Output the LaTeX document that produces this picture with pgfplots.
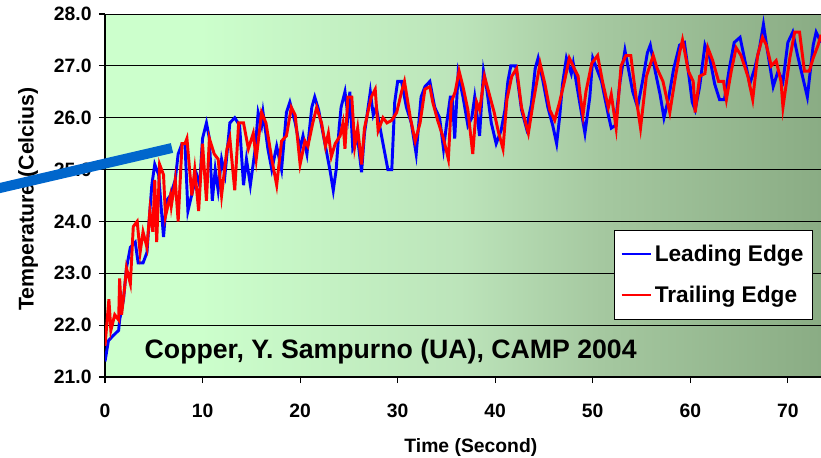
\documentclass[border=0pt]{standalone}
\usepackage{pgfplots}
\pgfplotsset{compat=1.18}
\usepackage{fontspec}
\setmainfont{Liberation Sans}
\definecolor{bgA}{RGB}{204,255,204}
\definecolor{bgB}{RGB}{188,228,186}
\definecolor{bgC}{RGB}{165,200,160}
\definecolor{bgD}{RGB}{138,172,132}
\definecolor{pointer}{RGB}{0,102,204}
\pgfdeclarehorizontalshading{bgshade}{100bp}{color(0bp)=(bgA); color(25bp)=(bgA); color(31.6bp)=(bgA); color(49.8bp)=(bgB); color(59.6bp)=(bgC); color(75bp)=(bgD); color(100bp)=(bgD)}
\begin{document}
\begin{tikzpicture}
\useasboundingbox (-78.75pt,-60pt) rectangle (537pt,282.75pt);
\begin{axis}[
  scale only axis, width=537pt, height=272.25pt,
  xmin=0, xmax=73.4, ymin=21, ymax=28,
  xtick={0,10,...,70}, ytick={21,22,...,28},
  axis background/.style={shading=bgshade},
  ymajorgrids, grid style={black, line width=0.6pt},
  axis x line*=bottom, axis y line*=left,
  axis line style={black, line width=0.8pt},
  tick align=outside, major tick length=4.5pt,
  tick style={black, line width=0.8pt},
  ticklabel style={font=\fontsize{14.5}{17}\selectfont\bfseries},
  /pgf/number format/assume math mode=true,
  xticklabel style={yshift=-12pt},
  yticklabel style={xshift=-2pt, /pgf/number format/.cd, fixed, fixed zerofill, precision=1},
  xlabel={Time (Second)},
  ylabel={Temperature (Celcius)},
  xlabel style={font=\fontsize{14.5}{17}\selectfont\bfseries, at={(axis description cs:0.511,-0.195)}, anchor=center},
  ylabel style={font=\fontsize{16}{19}\selectfont\bfseries, at={(axis description cs:-0.1075,0.49)}, anchor=center},
  legend style={at={(axis description cs:0.989,0.405)}, anchor=north east, draw=black, fill=white, line width=0.6pt,
    font=\fontsize{17}{20}\selectfont\bfseries, row sep=13pt, inner xsep=5pt, inner ysep=9pt},
  legend cell align=left,
  legend image code/.code={\draw[#1, line width=1.6pt] (0pt,0pt) -- (22pt,0pt);},
]
\addplot[blue, line width=2.2pt] coordinates {
(0,21.3)(0.35,21.7)(0.85,21.8)(1.4,21.9)(1.5,22.1)(1.9,22.5)(2.2,23.1)(2.6,23.5)(3.1,23.6)(3.4,23.2)(3.9,23.2)(4.3,23.4)(4.6,24.2)(4.8,24.7)(5.1,25.1)(5.5,24.9)(6.0,23.7)(6.3,24.4)(6.7,24.5)(7.2,24.8)(7.5,25.3)(7.9,25.5)(8.2,25.5)(8.5,24.2)(9.0,24.6)(9.4,24.9)(9.7,24.7)(10.0,25.6)(10.4,25.9)(10.7,25.6)(11.0,24.4)(11.3,25.0)(11.6,24.6)(11.95,25.2)(12.3,24.9)(12.8,25.9)(13.3,26.0)(13.8,25.85)(14.2,24.7)(14.5,25.2)(14.9,24.7)(15.4,25.4)(15.7,26.1)(16.05,25.85)(16.2,26.1)(16.7,25.4)(17.1,25.0)(17.6,25.45)(18.1,25.0)(18.6,26.1)(18.95,26.3)(19.5,25.9)(20.0,25.4)(20.3,25.65)(20.7,25.3)(21.2,26.2)(21.5,26.4)(21.9,26.15)(22.2,25.85)(22.6,25.45)(23.1,24.95)(23.4,24.6)(23.7,25.0)(24.0,25.8)(24.2,26.2)(24.6,26.5)(24.9,26.05)(25.1,26.5)(25.4,25.4)(25.9,25.6)(26.3,24.95)(26.6,25.7)(27.2,26.5)(27.5,26.05)(27.8,26.2)(28.2,25.8)(28.7,25.3)(29.0,25.0)(29.4,25.0)(29.7,26.3)(30.0,26.7)(30.4,26.7)(30.9,26.2)(31.4,25.9)(31.9,25.3)(32.4,26.4)(32.8,26.6)(33.3,26.7)(33.8,26.2)(34.3,26.0)(34.7,25.4)(35.0,25.85)(35.4,26.4)(35.6,26.4)(35.85,25.6)(36.2,26.85)(36.7,26.4)(37.2,25.85)(37.6,26.0)(37.9,26.4)(38.4,25.65)(38.8,26.9)(39.1,26.6)(39.6,25.9)(40.1,25.5)(40.6,25.75)(41.0,26.15)(41.3,26.7)(41.6,27.0)(42.1,27.0)(42.7,26.15)(43.2,25.8)(43.7,26.25)(44.1,26.95)(44.4,27.15)(44.9,26.7)(45.4,26.2)(45.9,25.85)(46.3,25.5)(46.6,26.0)(46.9,26.65)(47.3,27.15)(47.8,26.85)(48.0,27.05)(48.3,26.7)(48.7,26.25)(49.2,25.7)(49.7,26.4)(50.0,27.15)(50.4,26.95)(50.9,26.7)(51.6,26.05)(51.9,25.8)(52.3,25.85)(52.8,26.7)(53.3,27.3)(53.6,27.0)(54.1,26.5)(54.6,26.2)(55.1,26.7)(55.6,27.25)(55.9,27.4)(56.4,26.9)(56.9,26.45)(57.3,26.0)(57.8,26.4)(58.3,26.95)(58.9,27.4)(59.4,27.45)(59.9,26.75)(60.2,26.3)(60.5,26.15)(60.96,26.6)(61.5,27.4)(62.0,27.15)(62.5,26.65)(63.0,26.35)(63.5,26.35)(64.0,26.95)(64.5,27.45)(65.1,27.55)(65.6,27.1)(66.1,26.65)(66.6,26.95)(67.1,27.35)(67.5,27.8)(67.9,27.3)(68.5,26.6)(69.0,26.9)(69.5,26.7)(70.0,27.45)(70.5,27.65)(71.0,27.2)(71.5,26.8)(72.0,26.4)(72.6,27.4)(72.9,27.65)(73.4,27.45)
};
\addlegendentry{Leading Edge}
\addplot[red, line width=2.2pt] coordinates {
(0,21.6)(0.4,22.5)(0.6,21.9)(1.0,22.2)(1.4,22.1)(1.5,22.9)(1.7,22.2)(2.0,22.7)(2.2,23.1)(2.6,22.8)(2.9,23.9)(3.3,24.0)(3.6,23.4)(3.9,23.8)(4.3,23.5)(4.6,24.2)(4.9,23.8)(5.1,24.8)(5.3,23.6)(5.6,25.1)(6.0,24.9)(6.2,24.1)(6.7,24.5)(6.8,24.3)(7.2,24.8)(7.5,24.0)(7.9,25.5)(8.2,25.5)(8.4,25.6)(8.9,24.5)(9.2,25.0)(9.6,24.2)(10.0,25.5)(10.4,24.4)(10.7,25.6)(11.2,25.3)(11.6,25.2)(11.95,24.5)(12.5,25.4)(12.8,25.6)(13.3,24.6)(13.7,25.9)(14.2,25.9)(14.7,25.4)(15.2,25.7)(15.5,25.2)(16.05,26.1)(16.5,25.9)(17.1,25.2)(17.6,24.7)(18.1,25.55)(18.6,25.65)(19.1,26.2)(19.5,26.05)(20.0,25.1)(20.5,25.55)(20.8,25.45)(21.3,25.9)(21.7,26.2)(22.2,25.9)(22.6,25.45)(22.9,25.7)(23.2,25.25)(23.6,25.5)(24.1,25.65)(24.4,25.9)(24.6,25.4)(24.9,26.4)(25.3,26.4)(25.6,25.45)(25.9,25.8)(26.3,25.1)(26.6,25.8)(27.0,26.15)(27.3,26.4)(27.7,26.55)(28.0,25.75)(28.5,26.0)(28.9,25.9)(29.4,25.95)(29.9,26.1)(30.4,26.5)(30.7,26.7)(31.3,26.0)(31.8,25.55)(32.3,25.9)(32.8,26.55)(33.3,26.6)(33.6,26.3)(34.1,25.95)(34.7,25.6)(35.2,25.2)(35.5,26.3)(35.9,26.5)(36.3,26.9)(36.7,26.6)(37.2,26.15)(37.7,25.3)(38.1,26.3)(38.4,26.15)(38.9,26.8)(39.4,26.45)(39.9,26.1)(40.3,25.75)(40.8,25.4)(41.2,26.35)(41.7,26.8)(42.2,26.95)(42.7,26.2)(43.4,25.7)(43.9,26.3)(44.6,27.05)(45.1,26.65)(45.6,26.15)(46.1,25.95)(46.6,26.3)(47.1,26.7)(47.6,27.15)(48.1,26.95)(48.5,26.8)(48.7,26.45)(49.0,26.05)(49.3,26.5)(49.9,27.05)(50.5,27.2)(51.0,26.7)(51.6,26.2)(51.9,26.45)(52.4,25.8)(52.9,27.0)(53.4,27.2)(53.9,27.2)(54.4,26.45)(54.9,25.8)(55.5,26.8)(56.2,27.2)(56.6,26.95)(57.2,26.7)(57.9,26.1)(58.4,26.7)(58.9,27.25)(59.2,27.5)(59.8,26.9)(60.3,26.7)(60.5,26.1)(60.96,26.8)(61.5,26.85)(61.8,27.35)(62.3,27.1)(62.9,26.7)(63.4,26.7)(63.7,26.35)(64.2,26.9)(64.7,27.35)(65.2,27.2)(65.9,26.8)(66.4,26.35)(66.9,27.2)(67.4,27.55)(67.8,27.4)(68.3,27.0)(68.8,27.1)(69.3,26.7)(69.5,26.2)(70.2,27.15)(70.7,27.65)(71.2,27.65)(71.7,26.9)(72.2,26.9)(72.6,27.15)(73.1,27.4)(73.4,27.6)
};
\addlegendentry{Trailing Edge}
\node[font=\fontsize{20}{24}\selectfont\bfseries] at (rel axis cs:0.399,0.069) {Copper, Y. Sampurno (UA), CAMP 2004};
\end{axis}
\draw[line width=7.5pt, pointer] (-82pt,141.0pt) -- (50.25pt,171.75pt);
\end{tikzpicture}
\end{document}
